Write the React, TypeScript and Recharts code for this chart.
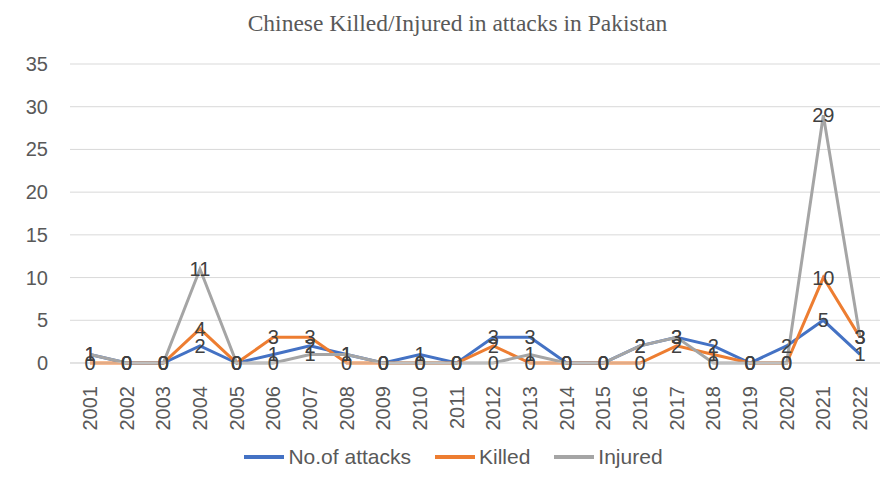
import React from 'react';
import { LineChart, Line, XAxis, YAxis, CartesianGrid, Legend, LabelList } from 'recharts';

const years = ['2001', '2002', '2003', '2004', '2005', '2006', '2007', '2008', '2009', '2010', '2011',
  '2012', '2013', '2014', '2015', '2016', '2017', '2018', '2019', '2020', '2021', '2022'];
const attacks = [1, 0, 0, 2, 0, 1, 2, 1, 0, 1, 0, 3, 3, 0, 0, 2, 3, 2, 0, 2, 5, 1];
const killed = [0, 0, 0, 4, 0, 3, 3, 0, 0, 0, 0, 2, 0, 0, 0, 0, 2, 1, 0, 0, 10, 3];
const injured = [1, 0, 0, 11, 0, 0, 1, 1, 0, 0, 0, 0, 1, 0, 0, 2, 3, 0, 0, 0, 29, 3];
const yTicks = [0, 5, 10, 15, 20, 25, 30, 35];

const SERIES = [
  { key: 'attacks', name: 'No.of attacks', color: '#4472C4' },
  { key: 'killed', name: 'Killed', color: '#ED7D31' },
  { key: 'injured', name: 'Injured', color: '#A5A5A5' },
];

const data = years.map((y, i) => ({
  year: y,
  attacks: attacks[i],
  killed: killed[i],
  injured: injured[i],
}));

const FONT = '"Liberation Sans", Arial, sans-serif';

const YearTick = ({ x, y, payload }: any) => (
  <text
    transform={`translate(${x},${y + 15}) rotate(-90)`}
    textAnchor="end"
    dominantBaseline="central"
    fontSize={20}
    fontFamily={FONT}
    fill="#595959"
  >
    {payload.value}
  </text>
);

const ValueTick = ({ y, payload }: any) => (
  <text x={48} y={y} textAnchor="end" dominantBaseline="central" fontSize={20} fontFamily={FONT} fill="#595959">
    {payload.value}
  </text>
);

const PointLabel = ({ x, y, value }: any) => (
  <text x={x} y={y} textAnchor="middle" dominantBaseline="central" fontSize={20} fontFamily={FONT} fill="#404040">
    {value}
  </text>
);

const LegendBox = () => (
  <div style={{ display: 'flex', justifyContent: 'center', gap: 24, fontFamily: FONT, fontSize: 21, color: '#595959', paddingLeft: 16 }}>
    {SERIES.map((s) => (
      <div key={s.key} style={{ display: 'flex', alignItems: 'center' }}>
        <span style={{ display: 'inline-block', width: 40, height: 4, background: s.color, marginRight: 4 }} />
        <span>{s.name}</span>
      </div>
    ))}
  </div>
);

export default function App() {
  return (
    <div style={{ position: 'absolute', left: 0, top: 0, width: 891, height: 485, background: '#fff' }}>
      <div
        style={{
          position: 'absolute',
          top: 10,
          width: 891,
          textAlign: 'center',
          fontFamily: '"Liberation Serif", "Times New Roman", serif',
          fontSize: 23.5,
          color: '#595959',
          paddingLeft: 24,
          boxSizing: 'border-box',
        }}
      >
        Chinese Killed/Injured in attacks in Pakistan
      </div>
      <LineChart width={891} height={485} data={data} margin={{ top: 64, right: 11, bottom: 62, left: 10 }}>
        <CartesianGrid vertical={false} stroke="#D9D9D9" />
        <XAxis
          dataKey="year"
          height={60}
          tick={<YearTick />}
          tickLine={false}
          axisLine={{ stroke: '#D9D9D9' }}
          interval={0}
          padding={{ left: 20, right: 20 }}
        />
        <YAxis width={60} domain={[0, 35]} ticks={yTicks} tick={<ValueTick />} tickLine={false} axisLine={false} />
        <Legend content={<LegendBox />} wrapperStyle={{ top: 445, left: 0, width: 891, height: 0 }} />
        {SERIES.map((s) => (
          <Line
            key={s.key}
            dataKey={s.key}
            name={s.name}
            stroke={s.color}
            strokeWidth={3}
            dot={false}
            isAnimationActive={false}
          >
            <LabelList dataKey={s.key} content={<PointLabel />} />
          </Line>
        ))}
      </LineChart>
    </div>
  );
}
